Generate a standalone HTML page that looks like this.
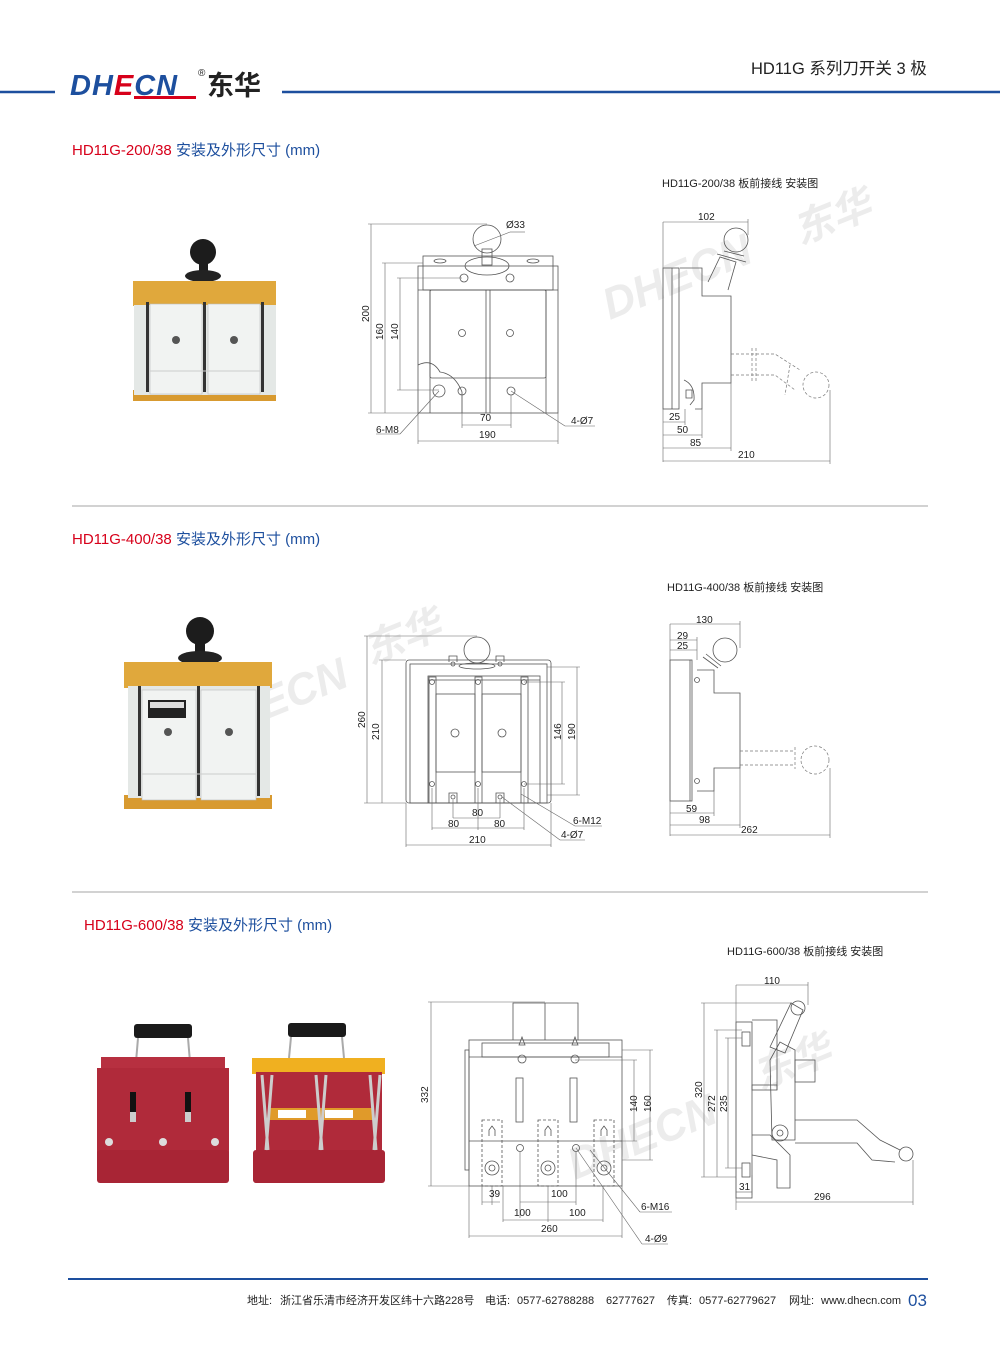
<!DOCTYPE html>
<html><head><meta charset="utf-8">
<style>
html,body{margin:0;padding:0;background:#fff;}
svg{display:block;}
text{font-family:"Liberation Sans","Noto Sans CJK SC",sans-serif;}
.d{font-size:10px;fill:#222;}
.ln{stroke:#555;stroke-width:0.8;fill:none;}
.th{stroke:#666;stroke-width:0.6;fill:none;}
.dash{stroke:#777;stroke-width:0.7;fill:none;stroke-dasharray:3 2;}
</style></head>
<body>
<svg width="1000" height="1357" viewBox="0 0 1000 1357" xmlns="http://www.w3.org/2000/svg">
<!-- header -->
<line x1="0" y1="92" x2="55" y2="92" stroke="#1d4f9e" stroke-width="2.5"/>
<line x1="282" y1="92" x2="1000" y2="92" stroke="#1d4f9e" stroke-width="2.5"/>
<text x="70" y="95" font-size="29" font-weight="bold" font-style="italic" fill="#1d4f9e" letter-spacing="1">DH<tspan fill="#d7001a">E</tspan>CN</text>
<rect x="134" y="96" width="62" height="3" fill="#d7001a"/>
<text x="198" y="76" font-size="10" fill="#222">®</text>
<text x="207" y="95" font-size="27" font-weight="bold" fill="#222">东华</text>
<text x="751" y="74" font-size="16.5" fill="#222">HD11G 系列刀开关 3 极</text>

<!-- section titles -->
<text x="72" y="155" font-size="15"><tspan fill="#d7001a">HD11G-200/38</tspan><tspan fill="#1d4f9e"> 安装及外形尺寸 (mm)</tspan></text>
<text x="72" y="544" font-size="15"><tspan fill="#d7001a">HD11G-400/38</tspan><tspan fill="#1d4f9e"> 安装及外形尺寸 (mm)</tspan></text>
<text x="84" y="930" font-size="15"><tspan fill="#d7001a">HD11G-600/38</tspan><tspan fill="#1d4f9e"> 安装及外形尺寸 (mm)</tspan></text>
<line x1="72" y1="506" x2="928" y2="506" stroke="#888" stroke-width="0.8"/>
<line x1="72" y1="892" x2="928" y2="892" stroke="#888" stroke-width="0.8"/>

<text x="662" y="187" font-size="11" fill="#222">HD11G-200/38 板前接线 安装图</text>
<text x="667" y="591" font-size="11" fill="#222">HD11G-400/38 板前接线 安装图</text>
<text x="727" y="955" font-size="11" fill="#222">HD11G-600/38 板前接线 安装图</text>

<!-- watermarks -->
<g fill="#ececec" font-weight="bold" font-style="italic">
<text x="610" y="320" font-size="44" transform="rotate(-22 610 320)">DHECN</text>
<text x="800" y="245" font-size="40" transform="rotate(-22 800 245)">东华</text>
<text x="265" y="720" font-size="44" transform="rotate(-22 265 720)">ECN</text>
<text x="370" y="665" font-size="40" transform="rotate(-22 370 665)">东华</text>
<text x="575" y="1180" font-size="44" transform="rotate(-22 575 1180)">DHECN</text>
<text x="760" y="1090" font-size="40" transform="rotate(-22 760 1090)">东华</text>
</g>

<!-- ===== photo 1 ===== -->
<g>
<ellipse cx="203" cy="252" rx="13" ry="13" fill="#1c1c1c"/>
<rect x="199" y="258" width="9" height="16" fill="#1c1c1c"/>
<ellipse cx="203" cy="276" rx="18" ry="6" fill="#222"/>
<rect x="133" y="281" width="143" height="25" fill="#e0a83c"/>
<rect x="133" y="390" width="143" height="11" fill="#d89a30"/>
<rect x="134" y="305" width="142" height="90" fill="#e4e8e6"/>
<rect x="150" y="304" width="52" height="90" fill="#f1f3f2" stroke="#bbb" stroke-width="0.6"/>
<rect x="208" y="304" width="52" height="90" fill="#f1f3f2" stroke="#bbb" stroke-width="0.6"/>
<rect x="146" y="302" width="3" height="90" fill="#333"/>
<rect x="203" y="302" width="3" height="90" fill="#333"/>
<rect x="261" y="302" width="3" height="90" fill="#333"/>
<circle cx="176" cy="340" r="4" fill="#555"/>
<circle cx="234" cy="340" r="4" fill="#555"/>
<line x1="150" y1="371" x2="260" y2="371" stroke="#ccc"/>
</g>

<!-- ===== drawing 1 front ===== -->
<g class="ln">
<rect x="418" y="266" width="140" height="147"/>
<rect x="423" y="256" width="130" height="34"/>
<line x1="418" y1="290" x2="558" y2="290"/>
<line x1="430" y1="290" x2="430" y2="413"/>
<line x1="486" y1="290" x2="486" y2="413"/>
<line x1="490" y1="290" x2="490" y2="413"/>
<line x1="546" y1="290" x2="546" y2="413"/>
<rect x="430" y="290" width="116" height="88" rx="2"/>
<ellipse cx="487" cy="266" rx="22" ry="9"/>
<circle cx="487" cy="239" r="14"/>
<rect x="482" y="249" width="10" height="16"/>
<circle cx="464" cy="278" r="4"/>
<circle cx="510" cy="278" r="4"/>
<ellipse cx="440" cy="261" rx="6" ry="2"/>
<ellipse cx="533" cy="261" rx="6" ry="2"/>
<circle cx="462" cy="333" r="3.5"/><circle cx="510" cy="333" r="3.5"/>
<path d="M418 365 Q432 358 440 372 Q455 374 462 392 L462 413"/>
<circle cx="439" cy="391" r="6"/><circle cx="462" cy="391" r="4"/><circle cx="511" cy="391" r="4"/>
</g>
<g class="th">
<line x1="371" y1="224" x2="371" y2="413"/><line x1="368" y1="224" x2="487" y2="224"/><line x1="368" y1="413" x2="418" y2="413"/>
<line x1="385" y1="263" x2="385" y2="413"/><line x1="382" y1="263" x2="423" y2="263"/>
<line x1="400" y1="278" x2="400" y2="390"/><line x1="397" y1="278" x2="462" y2="278"/><line x1="397" y1="390" x2="439" y2="390"/>
<line x1="462" y1="395" x2="462" y2="428"/><line x1="511" y1="395" x2="511" y2="428"/><line x1="462" y1="425" x2="511" y2="425"/>
<line x1="418" y1="413" x2="418" y2="444"/><line x1="558" y1="413" x2="558" y2="444"/><line x1="418" y1="441" x2="558" y2="441"/>
<line x1="474" y1="246" x2="510" y2="232"/><line x1="510" y1="232" x2="525" y2="232"/>
<line x1="439" y1="391" x2="400" y2="434"/><line x1="376" y1="434" x2="400" y2="434"/>
<line x1="511" y1="391" x2="565" y2="426"/><line x1="565" y1="426" x2="595" y2="426"/>
</g>
<text class="d" x="506" y="228">Ø33</text>
<text class="d" transform="translate(369 322) rotate(-90)">200</text>
<text class="d" transform="translate(383 340) rotate(-90)">160</text>
<text class="d" transform="translate(398 340) rotate(-90)">140</text>
<text class="d" x="480" y="421">70</text>
<text class="d" x="479" y="438">190</text>
<text class="d" x="376" y="433" font-size="9">6-M8</text>
<text class="d" x="571" y="424">4-Ø7</text>

<!-- ===== drawing 1 side ===== -->
<g class="ln">
<rect x="663" y="268" width="16" height="141"/>
<line x1="672" y1="268" x2="672" y2="409"/>
<path d="M680 268 L702 268 L702 296 L731 296 L731 383 L702 383 L702 409 L695 409"/>
<circle cx="736" cy="240" r="12"/>
<path d="M724 251 L744 256 M717 254 L746 262 M708 282 L720 257 L736 262 L728 290"/>
<path d="M684 380 Q695 385 694 400 L690 405 M686 390 h6 v8 h-6z"/>
</g>
<g class="dash">
<path d="M731 354 L775 354 L800 370 M731 375 L775 375 L795 390"/>
<circle cx="816" cy="385" r="13"/>
<line x1="752" y1="348" x2="752" y2="382"/><line x1="756" y1="348" x2="756" y2="382"/>
<line x1="790" y1="365" x2="785" y2="395"/>
</g>
<g class="th">
<line x1="663" y1="222" x2="663" y2="462"/>
<line x1="663" y1="222" x2="748" y2="222"/><line x1="748" y1="219" x2="748" y2="235"/>
<line x1="663" y1="422" x2="685" y2="422"/><line x1="685" y1="409" x2="685" y2="425"/>
<line x1="663" y1="435" x2="702" y2="435"/><line x1="702" y1="409" x2="702" y2="438"/>
<line x1="663" y1="448" x2="731" y2="448"/><line x1="731" y1="383" x2="731" y2="451"/>
<line x1="663" y1="461" x2="830" y2="461"/><line x1="830" y1="390" x2="830" y2="464"/>
</g>
<text class="d" x="698" y="220">102</text>
<text class="d" x="669" y="420">25</text>
<text class="d" x="677" y="433">50</text>
<text class="d" x="690" y="446">85</text>
<text class="d" x="738" y="458">210</text>

<!-- ===== photo 2 ===== -->
<g>
<circle cx="200" cy="631" r="14" fill="#1c1c1c"/>
<rect x="195" y="640" width="10" height="16" fill="#1c1c1c"/>
<ellipse cx="200" cy="658" rx="22" ry="7" fill="#222"/>
<rect x="124" y="662" width="148" height="26" fill="#e0a83c"/>
<rect x="124" y="795" width="148" height="14" fill="#d89a30"/>
<rect x="128" y="686" width="142" height="112" fill="#e4e8e6"/>
<rect x="142" y="690" width="54" height="110" fill="#f1f3f2" stroke="#bbb" stroke-width="0.6"/>
<rect x="201" y="690" width="55" height="110" fill="#f1f3f2" stroke="#bbb" stroke-width="0.6"/>
<rect x="138" y="686" width="3" height="110" fill="#333"/>
<rect x="197" y="686" width="3" height="110" fill="#333"/>
<rect x="257" y="686" width="3" height="110" fill="#333"/>
<rect x="148" y="700" width="38" height="18" fill="#222"/>
<rect x="150" y="702" width="34" height="6" fill="#ddd"/>
<circle cx="168" cy="732" r="4" fill="#555"/>
<circle cx="229" cy="732" r="4" fill="#555"/>
<line x1="142" y1="774" x2="256" y2="774" stroke="#ccc"/>
</g>

<!-- ===== drawing 2 front ===== -->
<g class="ln">
<rect x="406" y="660" width="145" height="143" rx="3"/>
<rect x="410" y="664" width="137" height="139"/>
<rect x="428" y="676" width="112" height="127"/>
<line x1="428" y1="680" x2="540" y2="680"/>
<rect x="429" y="677" width="7" height="126"/><rect x="475" y="677" width="7" height="126"/><rect x="521" y="677" width="7" height="126"/>
<rect x="436" y="694" width="39" height="78"/><rect x="482" y="694" width="39" height="78"/>
<circle cx="477" cy="650" r="13"/>
<ellipse cx="477" cy="666" rx="18" ry="3"/>
<path d="M449 662 v-6 h8 v6 M496 662 v-6 h8 v6"/>
<circle cx="453" cy="664" r="2"/><circle cx="500" cy="664" r="2"/>
<circle cx="432" cy="682" r="2.5"/><circle cx="478" cy="682" r="2.5"/><circle cx="524" cy="682" r="2.5"/>
<circle cx="432" cy="784" r="2.5"/><circle cx="478" cy="784" r="2.5"/><circle cx="524" cy="784" r="2.5"/>
<circle cx="455" cy="733" r="4"/><circle cx="502" cy="733" r="4"/>
<path d="M449 803 v-10 h8 v10 M496 803 v-10 h8 v10"/>
<circle cx="453" cy="797" r="2"/><circle cx="500" cy="797" r="2"/>
</g>
<g class="th">
<line x1="367" y1="636" x2="367" y2="803"/><line x1="364" y1="636" x2="477" y2="636"/><line x1="364" y1="803" x2="406" y2="803"/>
<line x1="382" y1="660" x2="382" y2="803"/><line x1="379" y1="660" x2="406" y2="660"/>
<line x1="562" y1="682" x2="562" y2="784"/><line x1="524" y1="682" x2="565" y2="682"/><line x1="524" y1="784" x2="565" y2="784"/>
<line x1="577" y1="667" x2="577" y2="795"/><line x1="547" y1="667" x2="580" y2="667"/><line x1="547" y1="795" x2="580" y2="795"/>
<line x1="453" y1="800" x2="453" y2="818"/><line x1="500" y1="800" x2="500" y2="818"/><line x1="453" y1="818" x2="500" y2="818"/>
<line x1="432" y1="788" x2="432" y2="830"/><line x1="478" y1="788" x2="478" y2="830"/><line x1="524" y1="788" x2="524" y2="830"/>
<line x1="432" y1="828" x2="524" y2="828"/>
<line x1="406" y1="803" x2="406" y2="847"/><line x1="551" y1="803" x2="551" y2="847"/><line x1="406" y1="845" x2="551" y2="845"/>
<line x1="521" y1="794" x2="575" y2="826"/><line x1="575" y1="826" x2="602" y2="826"/>
<line x1="502" y1="797" x2="560" y2="840"/><line x1="560" y1="840" x2="585" y2="840"/>
</g>
<text class="d" transform="translate(365 728) rotate(-90)">260</text>
<text class="d" transform="translate(379 740) rotate(-90)">210</text>
<text class="d" transform="translate(561 740) rotate(-90)">146</text>
<text class="d" transform="translate(575 740) rotate(-90)">190</text>
<text class="d" x="472" y="816">80</text>
<text class="d" x="448" y="827">80</text>
<text class="d" x="494" y="827">80</text>
<text class="d" x="469" y="843">210</text>
<text class="d" x="573" y="824">6-M12</text>
<text class="d" x="561" y="838">4-Ø7</text>

<!-- ===== drawing 2 side ===== -->
<g class="ln">
<rect x="670" y="660" width="22" height="141"/>
<line x1="690" y1="660" x2="690" y2="801"/>
<path d="M697 670 L714 670 L714 693 L740 693 L740 768 L714 768 L714 791 L697 791"/>
<circle cx="725" cy="650" r="12"/>
<path d="M703 657 L718 668 M706 654 L721 666"/>
<circle cx="697" cy="680" r="2.5"/><circle cx="697" cy="781" r="2.5"/>
</g>
<g class="dash">
<path d="M740 751 L795 751 M740 765 L795 765 M795 747 v22"/>
<circle cx="815" cy="760" r="14"/>
</g>
<g class="th">
<line x1="670" y1="624" x2="670" y2="836"/>
<line x1="670" y1="624" x2="740" y2="624"/><line x1="740" y1="621" x2="740" y2="648"/>
<line x1="670" y1="640" x2="697" y2="640"/><line x1="697" y1="637" x2="697" y2="660"/>
<line x1="670" y1="650" x2="697" y2="650"/>
<line x1="670" y1="813" x2="714" y2="813"/><line x1="714" y1="791" x2="714" y2="816"/>
<line x1="670" y1="825" x2="740" y2="825"/><line x1="740" y1="768" x2="740" y2="828"/>
<line x1="670" y1="835" x2="830" y2="835"/><line x1="830" y1="768" x2="830" y2="838"/>
</g>
<text class="d" x="696" y="623">130</text>
<text class="d" x="677" y="639">29</text>
<text class="d" x="677" y="649">25</text>
<text class="d" x="686" y="812">59</text>
<text class="d" x="699" y="823">98</text>
<text class="d" x="741" y="833">262</text>

<!-- ===== photos 3 ===== -->
<g>
<rect x="134" y="1024" width="58" height="14" rx="3" fill="#1a1a1a"/>
<path d="M138 1038 L136 1062 M188 1038 L190 1062" stroke="#aaa" stroke-width="2" fill="none"/>
<rect x="101" y="1057" width="124" height="16" fill="#b73040"/>
<rect x="97" y="1068" width="132" height="88" fill="#b02a3a"/>
<rect x="97" y="1150" width="132" height="33" rx="3" fill="#a82535"/>
<rect x="130" y="1092" width="6" height="28" fill="#111"/><rect x="185" y="1092" width="6" height="28" fill="#111"/>
<rect x="130" y="1112" width="6" height="10" fill="#ccc"/><rect x="185" y="1112" width="6" height="10" fill="#ccc"/>
<circle cx="109" cy="1142" r="4" fill="#ddd"/><circle cx="163" cy="1142" r="4" fill="#ddd"/><circle cx="215" cy="1142" r="4" fill="#ddd"/>

<rect x="288" y="1023" width="58" height="14" rx="3" fill="#1a1a1a"/>
<path d="M291 1037 L289 1058 M342 1037 L344 1058" stroke="#aaa" stroke-width="2" fill="none"/>
<rect x="252" y="1058" width="133" height="16" fill="#f0b020"/>
<rect x="256" y="1072" width="126" height="80" fill="#b02a3a"/>
<rect x="253" y="1150" width="132" height="33" rx="3" fill="#a82535"/>
<rect x="268" y="1108" width="106" height="12" fill="#e09a2a"/>
<rect x="278" y="1110" width="28" height="8" fill="#fff"/><rect x="325" y="1110" width="28" height="8" fill="#fff"/>
<g stroke="#ccc" stroke-width="3" fill="none">
<path d="M262 1075 L268 1150 M272 1075 L266 1150"/>
<path d="M316 1075 L322 1150 M326 1075 L320 1150"/>
<path d="M370 1075 L376 1150 M380 1075 L374 1150"/>
</g>
</g>

<!-- ===== drawing 3 front ===== -->
<g class="ln">
<rect x="469" y="1040" width="153" height="146"/>
<rect x="465" y="1050" width="4" height="120"/>
<path d="M513 1040 V1003 H578 V1040 M545 1003 V1040"/>
<rect x="482" y="1043" width="127" height="14"/>
<line x1="469" y1="1057" x2="622" y2="1057"/>
<line x1="469" y1="1141" x2="622" y2="1141"/>
<circle cx="522" cy="1059" r="4"/><circle cx="575" cy="1059" r="4"/>
<path d="M519 1045 l3 -8 l3 8z M572 1045 l3 -8 l3 8z"/>
<rect x="516" y="1078" width="7" height="44"/><rect x="570" y="1078" width="7" height="44"/>
<rect x="482" y="1120" width="20" height="66" stroke-dasharray="3 2"/>
<rect x="538" y="1120" width="20" height="66" stroke-dasharray="3 2"/>
<rect x="594" y="1120" width="20" height="66" stroke-dasharray="3 2"/>
<circle cx="492" cy="1168" r="7"/><circle cx="548" cy="1168" r="7"/><circle cx="604" cy="1168" r="7"/>
<circle cx="492" cy="1168" r="3"/><circle cx="548" cy="1168" r="3"/><circle cx="604" cy="1168" r="3"/>
<circle cx="520" cy="1148" r="3.5"/><circle cx="576" cy="1148" r="3.5"/>
<path d="M489 1136 v-6 l3 -4 l3 4 v6 M545 1136 v-6 l3 -4 l3 4 v6 M601 1136 v-6 l3 -4 l3 4 v6"/>
</g>
<g class="th">
<line x1="431" y1="1002" x2="431" y2="1186"/><line x1="428" y1="1002" x2="545" y2="1002"/><line x1="428" y1="1186" x2="469" y2="1186"/>
<line x1="634" y1="1060" x2="634" y2="1141"/><line x1="575" y1="1060" x2="637" y2="1060"/><line x1="600" y1="1141" x2="637" y2="1141"/>
<line x1="650" y1="1050" x2="650" y2="1160"/><line x1="622" y1="1050" x2="653" y2="1050"/><line x1="622" y1="1160" x2="653" y2="1160"/>
<line x1="482" y1="1186" x2="482" y2="1205"/><line x1="492" y1="1186" x2="492" y2="1205"/><line x1="482" y1="1202" x2="500" y2="1202"/>
<line x1="520" y1="1152" x2="520" y2="1218"/><line x1="576" y1="1152" x2="576" y2="1205"/><line x1="520" y1="1202" x2="576" y2="1202"/>
<line x1="503" y1="1186" x2="503" y2="1222"/><line x1="548" y1="1186" x2="548" y2="1222"/><line x1="603" y1="1186" x2="603" y2="1222"/>
<line x1="503" y1="1220" x2="603" y2="1220"/>
<line x1="469" y1="1186" x2="469" y2="1238"/><line x1="622" y1="1186" x2="622" y2="1238"/><line x1="469" y1="1236" x2="622" y2="1236"/>
<line x1="590" y1="1150" x2="640" y2="1212"/><line x1="640" y1="1212" x2="672" y2="1212"/>
<line x1="576" y1="1148" x2="642" y2="1244"/><line x1="642" y1="1244" x2="668" y2="1244"/>
</g>
<text class="d" transform="translate(428 1103) rotate(-90)">332</text>
<text class="d" transform="translate(637 1112) rotate(-90)">140</text>
<text class="d" transform="translate(651 1112) rotate(-90)">160</text>
<text class="d" x="489" y="1197">39</text>
<text class="d" x="551" y="1197">100</text>
<text class="d" x="514" y="1216">100</text>
<text class="d" x="569" y="1216">100</text>
<text class="d" x="541" y="1232">260</text>
<text class="d" x="641" y="1210">6-M16</text>
<text class="d" x="645" y="1242">4-Ø9</text>

<!-- ===== drawing 3 side ===== -->
<g class="ln">
<rect x="736" y="1022" width="16" height="176"/>
<path d="M752 1020 H777 V1090 M752 1135 H770 L790 1155 V1188 H777 V1160 L752 1155"/>
<rect x="752" y="1085" width="25" height="5"/>
<path d="M770 1047 L791 1003 L803 1010 L785 1053 Z"/>
<circle cx="798" cy="1008" r="7"/>
<path d="M770 1060 L780 1042 L795 1050 L795 1140 L772 1140 Z"/>
<rect x="795" y="1060" width="20" height="22"/>
<circle cx="780" cy="1133" r="8"/><circle cx="780" cy="1133" r="3"/>
<rect x="742" y="1032" width="8" height="14"/><rect x="742" y="1163" width="8" height="14"/>
<path d="M795 1120 H857 L880 1140 L900 1150 M795 1143 H857 L872 1160 L895 1162"/>
<circle cx="906" cy="1154" r="7"/>
</g>
<g class="th">
<line x1="736" y1="985" x2="736" y2="1210"/>
<line x1="736" y1="985" x2="808" y2="985"/><line x1="808" y1="982" x2="808" y2="1005"/>
<line x1="704" y1="1003" x2="704" y2="1177"/><line x1="701" y1="1003" x2="792" y2="1003"/><line x1="701" y1="1177" x2="736" y2="1177"/>
<line x1="717" y1="1030" x2="717" y2="1177"/><line x1="714" y1="1030" x2="742" y2="1030"/>
<line x1="728" y1="1038" x2="728" y2="1168"/><line x1="725" y1="1038" x2="742" y2="1038"/><line x1="725" y1="1168" x2="742" y2="1168"/>
<line x1="752" y1="1175" x2="752" y2="1195"/><line x1="736" y1="1192" x2="752" y2="1192"/>
<line x1="736" y1="1202" x2="913" y2="1202"/><line x1="913" y1="1160" x2="913" y2="1205"/>
</g>
<text class="d" x="764" y="984">110</text>
<text class="d" transform="translate(702 1098) rotate(-90)">320</text>
<text class="d" transform="translate(715 1112) rotate(-90)">272</text>
<text class="d" transform="translate(727 1112) rotate(-90)">235</text>
<text class="d" x="739" y="1190">31</text>
<text class="d" x="814" y="1200">296</text>

<!-- footer -->
<line x1="68" y1="1279" x2="928" y2="1279" stroke="#1d4f9e" stroke-width="2"/>
<g font-size="11" fill="#222">
<text x="247" y="1304">地址:</text>
<text x="280" y="1304">浙江省乐清市经济开发区纬十六路228号</text>
<text x="485" y="1304">电话:</text>
<text x="517" y="1304">0577-62788288</text>
<text x="606" y="1304">62777627</text>
<text x="667" y="1304">传真:</text>
<text x="699" y="1304">0577-62779627</text>
<text x="789" y="1304">网址:</text>
<text x="821" y="1304">www.dhecn.com</text>
</g>
<text x="908" y="1306" font-size="17" fill="#1d4f9e">03</text>
</svg>
</body></html>
